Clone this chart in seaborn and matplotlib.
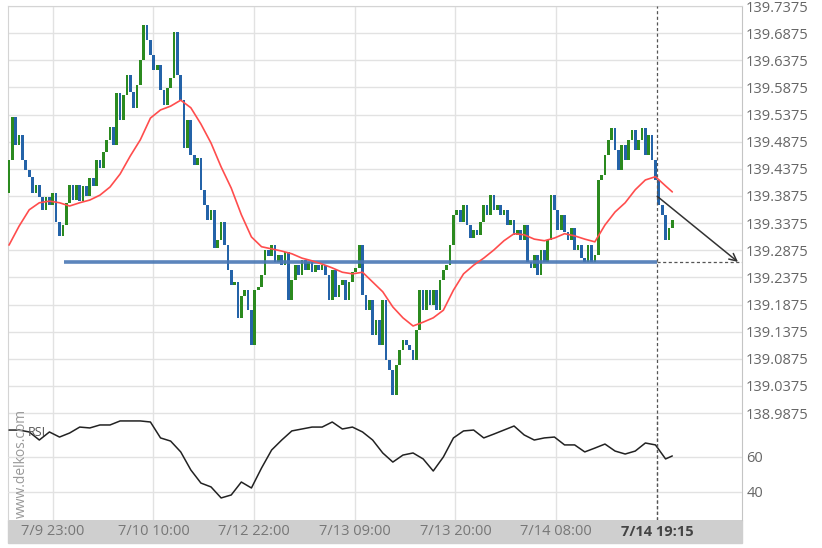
import numpy as np
import pandas as pd
import matplotlib
matplotlib.use("Agg")
import matplotlib.pyplot as plt
import seaborn as sns
from matplotlib.patches import Rectangle

# ---------------- data ----------------
first_open = 139.393
closes = [
    139.454, 139.533, 139.481, 139.500, 139.454, 139.435, 139.423, 139.393, 139.408, 139.386,
    139.362, 139.386, 139.371, 139.393, 139.340, 139.314, 139.334, 139.375, 139.408, 139.380,
    139.408, 139.378, 139.406, 139.388, 139.421, 139.406, 139.454, 139.439, 139.469, 139.491,
    139.515, 139.481, 139.577, 139.528, 139.574, 139.610, 139.579, 139.550, 139.592, 139.638,
    139.703, 139.675, 139.647, 139.620, 139.629, 139.583, 139.555, 139.587, 139.605, 139.690,
    139.610, 139.564, 139.476, 139.528, 139.463, 139.445, 139.458, 139.399, 139.371, 139.343,
    139.362, 139.292, 139.306, 139.340, 139.297, 139.251, 139.224, 139.229, 139.163, 139.203,
    139.214, 139.177, 139.113, 139.214, 139.220, 139.242, 139.288, 139.277, 139.297, 139.266,
    139.279, 139.260, 139.284, 139.196, 139.233, 139.260, 139.242, 139.270, 139.251, 139.266,
    139.247, 139.260, 139.251, 139.260, 139.242, 139.196, 139.251, 139.201, 139.224, 139.233,
    139.196, 139.229, 139.247, 139.255, 139.297, 139.205, 139.177, 139.196, 139.131, 139.159,
    139.113, 139.196, 139.085, 139.067, 139.021, 139.076, 139.104, 139.122, 139.113, 139.104,
    139.085, 139.141, 139.214, 139.177, 139.214, 139.187, 139.214, 139.177, 139.233, 139.251,
    139.260, 139.297, 139.353, 139.362, 139.340, 139.371, 139.334, 139.310, 139.325, 139.316,
    139.340, 139.371, 139.353, 139.389, 139.362, 139.371, 139.353, 139.362, 139.334, 139.343,
    139.316, 139.325, 139.306, 139.334, 139.266, 139.255, 139.279, 139.242, 139.288, 139.266,
    139.306, 139.389, 139.362, 139.325, 139.353, 139.321, 139.306, 139.329, 139.288, 139.297,
    139.273, 139.266, 139.297, 139.266, 139.279, 139.417, 139.426, 139.463, 139.491, 139.513,
    139.472, 139.435, 139.481, 139.454, 139.491, 139.509, 139.472, 139.491, 139.513, 139.463,
    139.500, 139.454, 139.417, 139.371, 139.353, 139.306, 139.329, 139.343,
]

ind_idx = list(range(0, 196, 3)) + [197]
ma_vals = [
    139.297, 139.332, 139.362, 139.375, 139.378, 139.375, 139.369, 139.375, 139.380, 139.389,
    139.404, 139.428, 139.461, 139.491, 139.531, 139.546, 139.553, 139.564, 139.550, 139.520,
    139.485, 139.441, 139.402, 139.353, 139.312, 139.294, 139.290, 139.286, 139.281, 139.273,
    139.268, 139.262, 139.255, 139.247, 139.244, 139.247, 139.229, 139.211, 139.183, 139.163,
    139.148, 139.155, 139.163, 139.177, 139.214, 139.244, 139.260, 139.273, 139.288, 139.305,
    139.318, 139.316, 139.308, 139.305, 139.310, 139.318, 139.314, 139.308, 139.303, 139.334,
    139.358, 139.375, 139.399, 139.417, 139.423, 139.406, 139.395,
]
rsi_vals = [
    75.4, 75.4, 74.3, 69.7, 74.3, 71.4, 73.7, 77.1, 76.6, 78.3,
    78.3, 80.6, 80.6, 80.6, 80.0, 70.9, 69.1, 62.9, 52.6, 45.1,
    42.9, 36.6, 38.3, 45.7, 42.3, 53.7, 64.0, 69.7, 74.9, 76.0,
    77.1, 77.1, 80.0, 76.0, 77.1, 74.3, 69.7, 62.3, 57.1, 61.1,
    62.3, 58.9, 52.0, 60.0, 70.9, 74.9, 75.4, 70.9, 73.1, 75.4,
    77.7, 72.6, 69.7, 70.9, 71.4, 66.9, 66.9, 62.9, 65.1, 67.4,
    63.4, 61.7, 63.4, 68.0, 66.9, 58.9, 60.6,
]

support_level = 139.266
signal_start = 139.387
price_ticks = [139.7375, 139.6875, 139.6375, 139.5875, 139.5375, 139.4875, 139.4375,
               139.3875, 139.3375, 139.2875, 139.2375, 139.1875, 139.1375, 139.0875,
               139.0375, 138.9875]
rsi_ticks = [60, 40]
date_labels = ["7/9 23:00", "7/10 10:00", "7/12 22:00", "7/13 09:00",
               "7/13 20:00", "7/14 08:00", "7/14 19:15"]
date_pos = [13.0, 42.9, 72.8, 102.7, 132.6, 162.5, 192.5]
support_start = 16.3
arrow_end_x = 216.5

# ---------------- figure ----------------
sns.set_style("white")
plt.rcParams['font.family'] = ['Open Sans', 'DejaVu Sans']

W, H = 822, 548
fig = plt.figure(figsize=(W / 100, H / 100), dpi=100)
ax_l, ax_r, ax_t, ax_b = 8, 742, 6, 520
ax = fig.add_axes([ax_l / W, 1 - ax_b / H, (ax_r - ax_l) / W, (ax_b - ax_t) / H])
ax.set_facecolor("white")
xlim = (-0.3, 217.7)
ax.set_xlim(*xlim)
ax.set_ylim(138.7905, 139.7375)

n = len(closes)
opens = [first_open] + closes[:-1]
df = pd.DataFrame({"i": np.arange(n), "open": opens, "close": closes})
df["lo"] = df[["open", "close"]].min(axis=1)
df["h"] = (df["close"] - df["open"]).abs().clip(lower=0.004)
bar_colors = np.where(df["close"] >= df["open"], "#2b8a1f", "#2463a8")
ax.bar(df["i"], df["h"], bottom=df["lo"], width=0.8, color=bar_colors,
       linewidth=0, zorder=3)

ma_df = pd.DataFrame({"i": ind_idx, "ma": ma_vals})
sns.lineplot(data=ma_df, x="i", y="ma", ax=ax, color="#ff4d4d", lw=1.2,
             zorder=4, legend=False)

# support line and projection
ax.hlines(support_level, support_start, date_pos[-1], color="#4a78b5",
          lw=2.6, alpha=0.9, zorder=3.5)
ax.hlines(support_level, date_pos[-1], xlim[1], color="#555555",
          lw=0.9, linestyles=(0, (2.5, 2)), zorder=3)
ax.axvline(date_pos[-1], color="#555555", lw=0.9, ls=(0, (2.5, 2)), zorder=5)
ax.annotate("", xy=(arrow_end_x, support_level), xytext=(date_pos[-1], signal_start),
            arrowprops=dict(arrowstyle="->", color="#333333", lw=1.1,
                            mutation_scale=13, shrinkA=0, shrinkB=0), zorder=6)

# grid & ticks
ax.set_yticks(price_ticks)
ax.set_yticklabels([f"{t:.4f}" for t in price_ticks])
ax.yaxis.tick_right()
ax.tick_params(axis="y", length=0, pad=3, labelsize=10.5, labelcolor="#666666")
ax.set_xticks(date_pos[:-1])
ax.tick_params(axis="x", length=0, labelbottom=False)
ax.grid(True, color="#e2e2e2", lw=1, zorder=0)
ax.set_axisbelow(True)
ax.set_xlabel("")
ax.set_ylabel("")
for s in ["left", "top"]:
    ax.spines[s].set_color("#d4d4d4")
ax.spines["right"].set_color("#c4c4c4")
ax.spines["bottom"].set_visible(False)

# RSI panel
r_top = 413
rax = fig.add_axes([ax_l / W, 1 - ax_b / H, (ax_r - ax_l) / W, (ax_b - r_top) / H],
                   facecolor="none")
rax.set_xlim(*xlim)
rax.set_ylim(24.0, 85.14)
rsi_df = pd.DataFrame({"i": ind_idx, "rsi": rsi_vals})
sns.lineplot(data=rsi_df, x="i", y="rsi", ax=rax, color="#222222", lw=1.1,
             legend=False, zorder=4)
rax.axvline(date_pos[-1], color="#555555", lw=0.9, ls=(0, (2.5, 2)), zorder=5)
rax.set_yticks(rsi_ticks)
rax.yaxis.tick_right()
rax.tick_params(axis="y", length=0, pad=3, labelsize=10.5, labelcolor="#666666")
rax.set_xticks([])
rax.grid(axis="y", color="#e2e2e2", lw=1)
rax.set_xlabel("")
rax.set_ylabel("")
for s in rax.spines.values():
    s.set_visible(False)

# date band
fig.add_artist(Rectangle((ax_l / W, 1 - 543 / H), (ax_r - ax_l) / W, 23 / H,
                         transform=fig.transFigure, color="#cfcfcf", zorder=0))
for p, lab in zip(date_pos, date_labels):
    last = lab == date_labels[-1]
    ax.text(p, -11.5 / (ax_b - ax_t), lab, transform=ax.get_xaxis_transform(),
            ha="center", va="center", fontsize=10.5,
            color="#444444" if last else "#777777",
            fontweight="bold" if last else "normal", clip_on=False)

fig.text(28 / W, 1 - 432 / H, "RSI", fontsize=9, color="#555555",
         ha="left", va="center")
fig.text(21 / W, 1 - 463 / H, "www.delkos.com", rotation=90, fontsize=10,
         color="#999999", ha="center", va="center")

fig.savefig("out.png", dpi=100)
